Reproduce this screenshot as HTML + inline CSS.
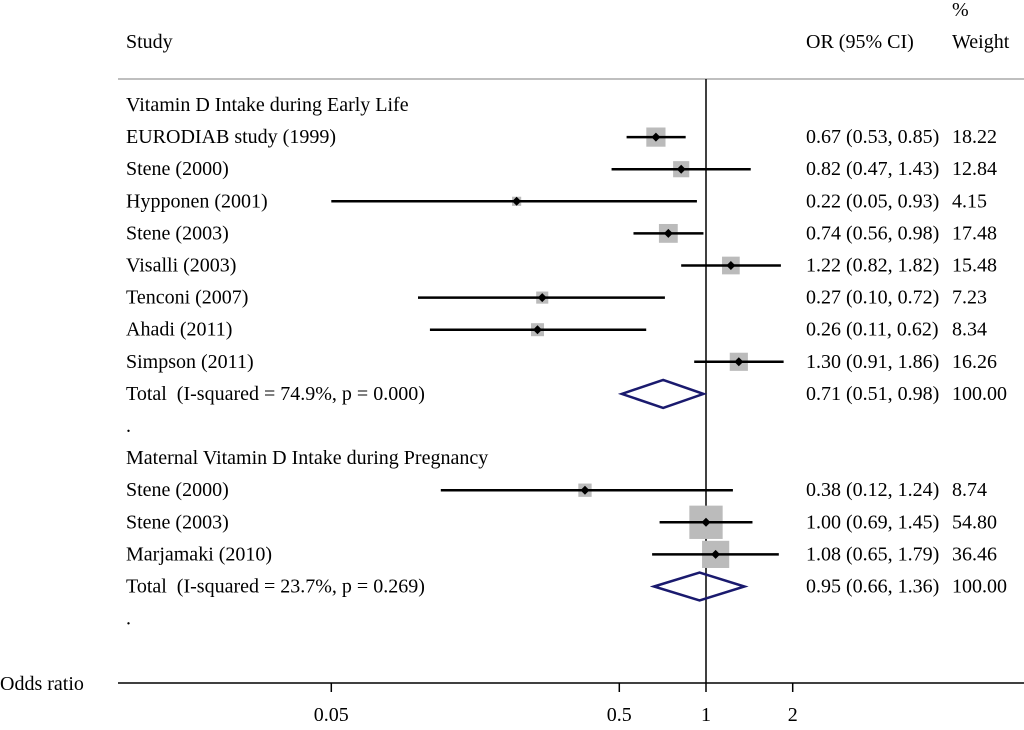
<!DOCTYPE html>
<html><head><meta charset="utf-8"><style>
body{margin:0;background:#fff}
svg text{font-family:"Liberation Serif",serif;font-size:20px;fill:#000;white-space:pre}
</style></head><body>
<svg id="c" width="1024" height="725" xmlns="http://www.w3.org/2000/svg">
<text x="126" y="48">Study</text>
<text x="806" y="48">OR (95% CI)</text>
<text x="952" y="16">%</text>
<text x="952" y="48">Weight</text>
<line x1="118" y1="79" x2="1024" y2="79" stroke="#aaa" stroke-width="1.5"/>
<line x1="706" y1="79" x2="706" y2="683" stroke="#000" stroke-width="1.5"/>
<line x1="118" y1="683" x2="1024" y2="683" stroke="#000" stroke-width="1.5"/>
<text x="0" y="690" style="font-size:20px">Odds ratio</text>
<g id="rows"></g><g id="axis"></g>
</svg>
<script>
const labels=["Vitamin D Intake during Early Life","EURODIAB study (1999)","Stene (2000)","Hypponen (2001)","Stene (2003)","Visalli (2003)","Tenconi (2007)","Ahadi (2011)","Simpson (2011)","Total  (I-squared = 74.9%, p = 0.000)",".","Maternal Vitamin D Intake during Pregnancy","Stene (2000)","Stene (2003)","Marjamaki (2010)","Total  (I-squared = 23.7%, p = 0.269)","."];
const kinds=["h","s","s","s","s","s","s","s","s","t","b","h","s","s","s","t","b"];
const est=[null,0.67,0.82,0.22,0.74,1.22,0.27,0.26,1.30,0.71,null,null,0.38,1.00,1.08,0.95,null];
const lo=[null,0.53,0.47,0.05,0.56,0.82,0.10,0.11,0.91,0.51,null,null,0.12,0.69,0.65,0.66,null];
const hi=[null,0.85,1.43,0.93,0.98,1.82,0.72,0.62,1.86,0.98,null,null,1.24,1.45,1.79,1.36,null];
const wts=[null,18.22,12.84,4.15,17.48,15.48,7.23,8.34,16.26,100.00,null,null,8.74,54.80,36.46,100.00,null];
const ticks=[0.05,0.5,1,2];
const tickLabels=["0.05","0.5","1","2"];
const NS="http://www.w3.org/2000/svg";
const xs=v=>706+Math.log10(v)*288;
const ys=i=>105+i*32.1;
function mk(t,a,p){const e=document.createElementNS(NS,t);for(const k in a)e.setAttribute(k,a[k]);p.appendChild(e);return e;}
const R=document.getElementById('rows');
labels.forEach((l,i)=>{
 const y=ys(i);
 const t=mk('text',{x:126,y:y+6},R);t.textContent=l;
 
 
 if(kinds[i]==='s'){
  const s=Math.sqrt(wts[i])*4.5;
  const b=mk('rect',{x:xs(est[i])-s/2,y:y-s/2,width:s,height:s,fill:'#bbb'},R);
  
  
  const ln=mk('line',{x1:xs(lo[i]),x2:xs(hi[i]),y1:y,y2:y,stroke:'#000','stroke-width':2.5},R);
  
  
  const d=mk('path',{d:`M${xs(est[i])-4.5},${y}L${xs(est[i])},${y-4.5}L${xs(est[i])+4.5},${y}L${xs(est[i])},${y+4.5}Z`,fill:'#000'},R);
  
  
 }
 if(kinds[i]==='t'){
  const d=mk('path',{d:`M${xs(lo[i])},${y}L${xs(est[i])},${y-14}L${xs(hi[i])},${y}L${xs(est[i])},${y+14}Z`,fill:'none',stroke:'#1a1a6e','stroke-width':2.5},R);
  
  
 }
 if(est[i]!==null){
  const o=mk('text',{x:806,y:y+6},R);o.textContent=`${est[i].toFixed(2)} (${lo[i].toFixed(2)}, ${hi[i].toFixed(2)})`;
  
  
  const w=mk('text',{x:952,y:y+6},R);w.textContent=wts[i].toFixed(2);
  
  
 }
});
const A=document.getElementById('axis');
ticks.forEach((v,i)=>{
 const l=mk('line',{x1:xs(v),x2:xs(v),y1:683,y2:692,stroke:'#000','stroke-width':1.5},A);
 
 
 const t=mk('text',{x:xs(v),y:721,'text-anchor':'middle'},A);t.textContent=tickLabels[i];
 
 
});
</script>
</body></html>
